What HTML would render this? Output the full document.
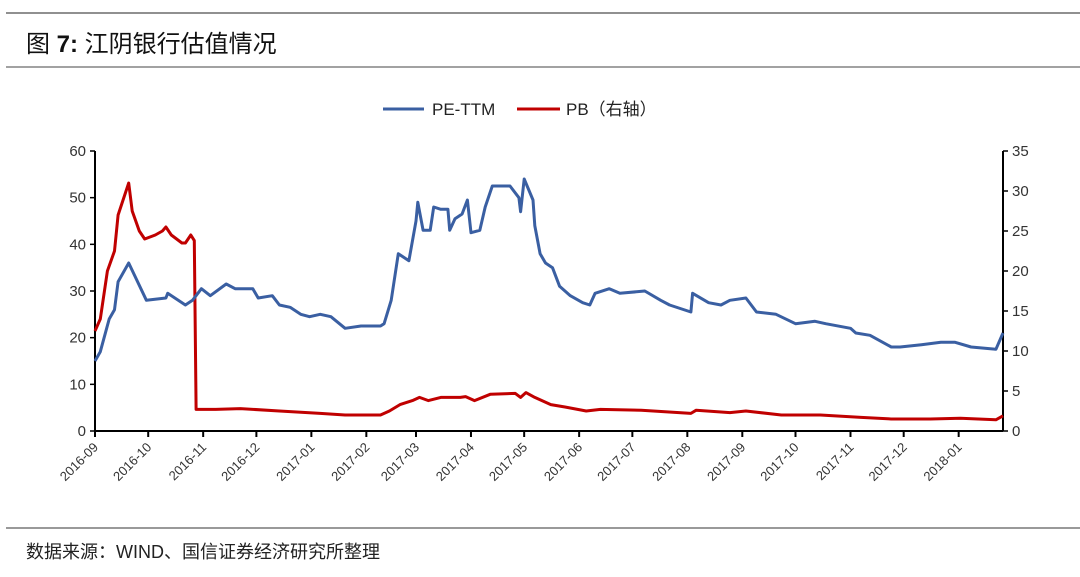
<!DOCTYPE html>
<html><head><meta charset="utf-8"><style>
body{margin:0;background:#fff;width:1080px;height:577px;overflow:hidden;font-family:"Liberation Sans","Noto Sans CJK SC",sans-serif;}
</style></head><body>
<svg id="chart" width="1080" height="577" xmlns="http://www.w3.org/2000/svg" style="position:absolute;left:0;top:0">
<line x1="6" y1="13" x2="1080" y2="13" stroke="#222" stroke-width="1"/>
<text x="26" y="52" font-size="24" fill="#111" font-family="'Liberation Sans','Noto Sans CJK SC',sans-serif">图 <tspan font-weight="bold">7:</tspan> 江阴银行估值情况</text>
<line x1="6" y1="67" x2="1080" y2="67" stroke="#444" stroke-width="1"/>
<g>
<line x1="383" y1="109" x2="424" y2="109" stroke="#3A5FA2" stroke-width="3"/>
<text x="432" y="115" font-size="17" fill="#222">PE-TTM</text>
<line x1="517" y1="109" x2="560" y2="109" stroke="#C00000" stroke-width="3"/>
<text x="566" y="115" font-size="17" fill="#222">PB（右轴）</text>
</g>
<line x1="6" y1="528" x2="1080" y2="528" stroke="#333" stroke-width="1"/>
<text x="26" y="558" font-size="18" fill="#222">数据来源：WIND、国信证券经济研究所整理</text>
<g id="plot"></g>
</svg>
<script>
const tickLabels=["2016-09","2016-10","2016-11","2016-12","2017-01","2017-02","2017-03","2017-04","2017-05","2017-06","2017-07","2017-08","2017-09","2017-10","2017-11","2017-12","2018-01"];
const leftTicks=[0,10,20,30,40,50,60];
const rightTicks=[0,5,10,15,20,25,30,35];
const peDays=[0,3,8,11,13,19,29,40,41,51,55,60,65,74,79,89,92,100,104,110,116,121,127,133,141,150,161,163,167,171,177,181,182,185,189,191,195,199,200,203,207,210,212,217,220,224,234,239,240,242,247,248,251,254,258,262,268,275,279,282,290,296,310,319,324,336,337,346,353,358,367,373,384,395,406,412,426,429,437,449,454,466,477,485,494,508,512];
const peValues=[15,17,24,26,32,36,28,28.5,29.5,27,28,30.5,29,31.5,30.5,30.5,28.5,29,27,26.5,25,24.5,25,24.5,22,22.5,22.5,23,28,38,36.5,45,49,43,43,48,47.5,47.5,43,45.5,46.5,49.5,42.5,43,48,52.5,52.5,50,47,54,49.5,44,38,36,35,31,29,27.5,27,29.5,30.5,29.5,30,28,27,25.5,29.5,27.5,27,28,28.5,25.5,25,23,23.5,23,22,21,20.5,18,18,18.5,19,19,18,17.5,21];
const pbDays=[0,3,7,11,13,19,21,25,28,34,38,40,43,49,51,54,56,57,68,82,104,127,141,161,166,172,179,183,188,195,206,209,214,223,237,240,243,248,257,265,277,285,308,336,339,358,367,387,409,432,449,471,488,508,512];
const pbValues=[12.5,14,20,22.5,27,31,27.5,25,24,24.5,25,25.5,24.5,23.5,23.5,24.5,23.8,2.7,2.7,2.8,2.5,2.2,2.0,2.0,2.5,3.3,3.8,4.2,3.8,4.2,4.2,4.3,3.8,4.6,4.7,4.2,4.8,4.2,3.3,3.0,2.5,2.7,2.6,2.2,2.6,2.3,2.5,2.0,2.0,1.7,1.5,1.5,1.6,1.4,1.9];
const monthDays=[0,30,61,91,122,153,181,212,242,273,303,334,365,395,426,456,487];
const X0=95,X1=1003,DMAX=512,Y0=431,Y1=151;
const xS=d=>X0+(X1-X0)*d/DMAX;
const yL=v=>Y0-(Y0-Y1)*v/60;
const yR=v=>Y0-(Y0-Y1)*v/35;
const NS="http://www.w3.org/2000/svg";
const plot=document.getElementById('plot');
function mk(tag,attrs,txt){const e=document.createElementNS(NS,tag);for(const k in attrs)e.setAttribute(k,attrs[k]);if(txt!==undefined)e.textContent=txt;plot.appendChild(e);return e;}
let e;
e=mk('line',{x1:X0,y1:Y1,x2:X0,y2:Y0,stroke:'#000','stroke-width':2});


e=mk('line',{x1:X1,y1:Y1,x2:X1,y2:Y0,stroke:'#000','stroke-width':2});


e=mk('line',{x1:X0,y1:Y0,x2:X1,y2:Y0,stroke:'#000','stroke-width':2});


leftTicks.forEach(v=>{
 e=mk('line',{x1:X0-5,y1:yL(v),x2:X0,y2:yL(v),stroke:'#000','stroke-width':1.5});
 
 
 e=mk('text',{x:X0-9,y:yL(v)+5,'text-anchor':'end','font-size':15,fill:'#333'},String(v));
 
 
});
rightTicks.forEach(v=>{
 e=mk('line',{x1:X1,y1:yR(v),x2:X1+5,y2:yR(v),stroke:'#000','stroke-width':1.5});
 
 
 e=mk('text',{x:X1+9,y:yR(v)+5,'text-anchor':'start','font-size':15,fill:'#333'},String(v));
 
 
});
tickLabels.forEach((t,i)=>{
 const x=xS(monthDays[i]);
 e=mk('line',{x1:x,y1:Y0,x2:x,y2:Y0+6,stroke:'#000','stroke-width':2});
 
 
 e=mk('text',{x:x+4,y:Y0+17,'text-anchor':'end','font-size':13,fill:'#333',transform:`rotate(-45 ${x+4} ${Y0+17})`},t);
 
 
});
const pb=pbDays.map((d,i)=>`${xS(d).toFixed(1)},${yR(pbValues[i]).toFixed(1)}`).join(' ');
e=mk('polyline',{points:pb,fill:'none',stroke:'#C00000','stroke-width':3,'stroke-linejoin':'round'});


const pe=peDays.map((d,i)=>`${xS(d).toFixed(1)},${yL(peValues[i]).toFixed(1)}`).join(' ');
e=mk('polyline',{points:pe,fill:'none',stroke:'#3A5FA2','stroke-width':3,'stroke-linejoin':'round'});


</script>
</body></html>
